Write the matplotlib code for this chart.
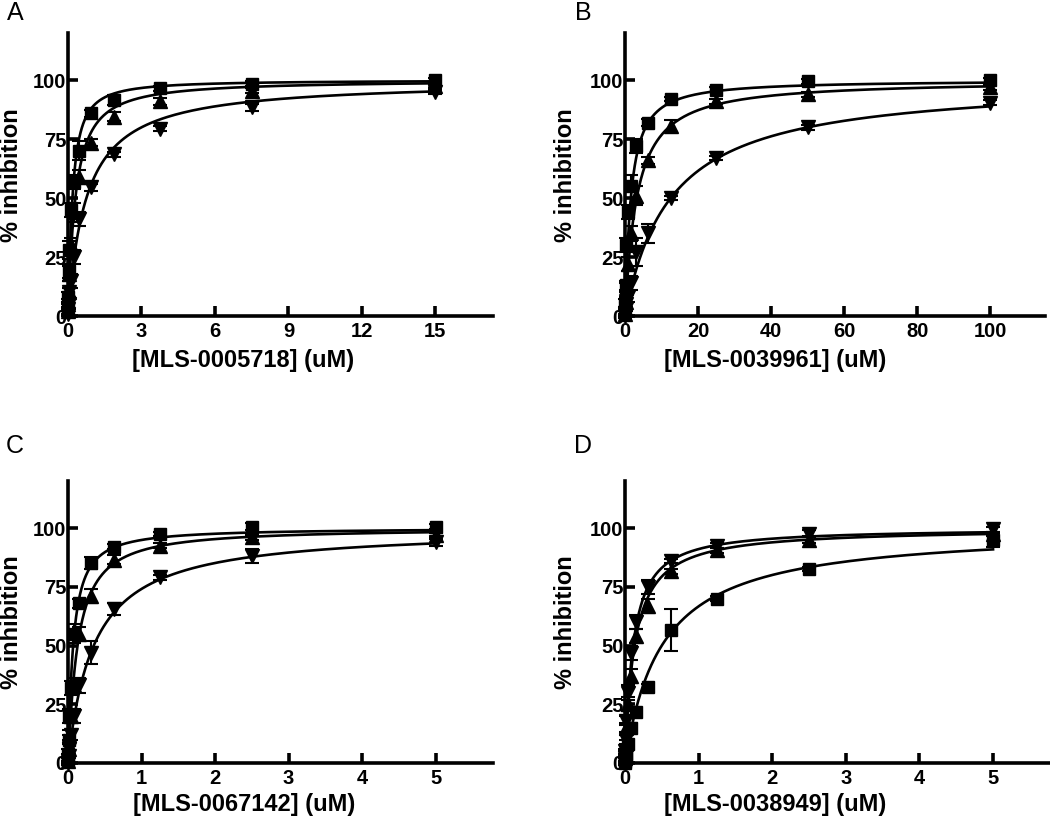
import numpy as np
import matplotlib.pyplot as plt

plt.rcParams['font.family'] = ['Liberation Sans', 'DejaVu Sans']

### Data ##########################################################################
# two-fold dilution series (uM) for each compound
conc_A = [15, 7.5, 3.75, 1.875, 0.9375, 0.469, 0.234, 0.117, 0.0586, 0.0293, 0.0146, 0.0073]
conc_B = [100, 50, 25, 12.5, 6.25, 3.125, 1.563, 0.781, 0.391, 0.195, 0.098, 0.049]
conc_C = [5, 2.5, 1.25, 0.625, 0.3125, 0.156, 0.078, 0.039, 0.0195, 0.0098, 0.0049, 0.0024]
conc_D = [5, 2.5, 1.25, 0.625, 0.3125, 0.156, 0.078, 0.039, 0.0195, 0.0098, 0.0049, 0.0024]

# % inhibition, squares / up triangles / down triangles
sq_A = [100, 98.5, 96.5, 91.5, 86, 70, 57, 45, 28, 19, 8, 3]
up_A = [97.5, 95.5, 91, 84.5, 73.5, 59, 44, 30, 18, 10, 5, 2]
dn_A = [95, 88.5, 79.5, 68.5, 54.5, 41, 25, 15, 10, 5, 3, 1]
sq_A_err = [1, 1, 1, 2, 1.5, 4, 3, 3, 4, 3, 2, 2]
up_A_err = [1, 1, 1.5, 2, 1.5, 3, 4, 3, 3, 2, 2, 1]
dn_A_err = [1, 1.5, 1, 1, 1.5, 3, 3, 3, 2, 2, 1, 1]

sq_B = [100, 99.5, 96, 92, 82, 72, 55, 44, 30, 13, 5, 2]
up_B = [97, 94, 91, 80.5, 66, 51, 35, 22, 12, 6, 3, 1]
dn_B = [90.5, 80, 67, 50, 35, 27, 14, 8, 5, 3, 1, 0]
sq_B_err = [1, 1, 1, 1, 1.5, 3, 5, 3, 3, 2, 2, 1]
up_B_err = [1, 1, 1, 2.5, 1.5, 4, 3, 3, 2, 2, 1, 1]
dn_B_err = [1, 1, 1, 1, 4, 6, 3, 2, 2, 1, 1, 1]

sq_C = [100.5, 100.5, 97.5, 92, 85, 68, 55, 32, 20, 10, 4, 1]
up_C = [97, 96, 92.5, 86.5, 71, 55, 33, 20, 12, 6, 3, 1]
dn_C = [94, 88, 79, 65.5, 47, 33, 20, 12, 6, 3, 1, 0]
sq_C_err = [1, 1.5, 1, 1, 2.5, 2, 4, 3, 3, 2, 2, 1]
up_C_err = [1, 1, 1, 2, 3, 3, 3, 3, 2, 2, 1, 1]
dn_C_err = [1.5, 3, 1, 2.5, 5, 3, 3, 2, 2, 1, 1, 1]

sq_D = [95, 82.5, 70, 56.5, 32.5, 21.5, 15, 8, 4, 2, 1, 0]
up_D = [97.5, 95, 90.5, 81.5, 67, 54, 37, 25, 15, 8, 4, 2]
dn_D = [99.5, 97.5, 92.5, 86, 75, 60, 47, 30, 18, 10, 5, 2]
sq_D_err = [3, 1, 1, 9, 1, 1.5, 2, 2, 2, 1, 1, 1]
up_D_err = [1, 1.5, 1, 1, 3, 3, 3, 3, 2, 2, 1, 1]
dn_D_err = [1, 1.5, 1, 1, 3, 3, 3, 3, 2, 2, 1, 1]

# fitted dose-response parameters (IC50 in uM, Hill slope), one per series
ic50_A = [0.18, 0.30, 0.75]
hill_A = [1.2, 1.1, 1.0]
ic50_B = [1.6, 3.2, 12.5]
hill_B = [1.1, 1.05, 1.0]
ic50_C = [0.07, 0.13, 0.35]
hill_C = [1.1, 1.1, 1.0]
ic50_D = [0.5, 0.13, 0.11]
hill_D = [1.0, 1.0, 1.05]

x_labels = ['[MLS-0005718] (uM)', '[MLS-0039961] (uM)',
            '[MLS-0067142] (uM)', '[MLS-0038949] (uM)']
x_ticks_A = [0, 3, 6, 9, 12, 15]
x_ticks_B = [0, 20, 40, 60, 80, 100]
x_ticks_C = [0, 1, 2, 3, 4, 5]
y_ticks = [0, 25, 50, 75, 100]

### Plot ##########################################################################
W, H = 1050, 824
fig = plt.figure(figsize=(W / 100, H / 100), dpi=100)


def hill(x, ic50, n):
    return 100.0 / (1.0 + (ic50 / x) ** n)


def make_panel(rect, conc, series, errs, ic50s, hills, xticks, xmax):
    ax = fig.add_axes(rect)
    xs = np.geomspace(xmax * 1e-5, max(conc), 600)
    for ic, n in zip(ic50s, hills):
        ax.plot(xs, hill(xs, ic, n), color='black', lw=1.9, clip_on=False, zorder=2)
    for y, e, m, ms in zip(series, errs, ['s', '^', 'v'], [9, 10, 10]):
        ax.errorbar(conc, y, yerr=e, fmt=m, color='black', ms=ms, elinewidth=1.5,
                    capsize=5, capthick=1.5, clip_on=False, zorder=3)
    ax.set_xlim(0, xmax)
    ax.set_ylim(0, 120)
    ax.set_xticks(xticks)
    ax.set_yticks(y_ticks)
    for s in ['top', 'right']:
        ax.spines[s].set_visible(False)
    for s in ['left', 'bottom']:
        ax.spines[s].set_linewidth(2.6)
    ax.tick_params(direction='in', length=7, width=2.6, labelsize=14.5)
    ax.tick_params(axis='y', pad=1)
    ax.tick_params(axis='x', pad=4)
    for lab in ax.get_xticklabels() + ax.get_yticklabels():
        lab.set_fontweight('bold')
    return ax


def px(x0, y_top, x1, y_bot):
    return [x0 / W, 1 - y_bot / H, (x1 - x0) / W, (y_bot - y_top) / H]


make_panel(px(68, 33, 493, 316), conc_A, [sq_A, up_A, dn_A],
           [sq_A_err, up_A_err, dn_A_err], ic50_A, hill_A, x_ticks_A, 17.35)
make_panel(px(625, 33, 1045, 316), conc_B, [sq_B, up_B, dn_B],
           [sq_B_err, up_B_err, dn_B_err], ic50_B, hill_B, x_ticks_B, 115)
make_panel(px(68, 481, 493, 763), conc_C, [sq_C, up_C, dn_C],
           [sq_C_err, up_C_err, dn_C_err], ic50_C, hill_C, x_ticks_C, 5.78)
make_panel(px(625, 481, 1049, 763), conc_D, [sq_D, up_D, dn_D],
           [sq_D_err, up_D_err, dn_D_err], ic50_D, hill_D, x_ticks_C, 5.76)

# axis labels and panel letters
for (cx, cy), lab in zip([(243, 361), (775, 361), (244, 805), (775, 805)], x_labels):
    fig.text(cx / W, 1 - cy / H, lab, ha='center', va='center',
             fontsize=17, fontweight='bold')
for cx, cy in [(12, 175), (566, 175), (12, 622), (566, 622)]:
    fig.text(cx / W, 1 - cy / H, '% inhibition', rotation=90, ha='center',
             va='center', fontsize=17, fontweight='bold')
for (cx, cy), letter in zip([(15, 13), (583, 13), (15, 446), (583, 446)], 'ABCD'):
    fig.text(cx / W, 1 - cy / H, letter, ha='center', va='center', fontsize=18)

fig.savefig('out.png', dpi=100)
